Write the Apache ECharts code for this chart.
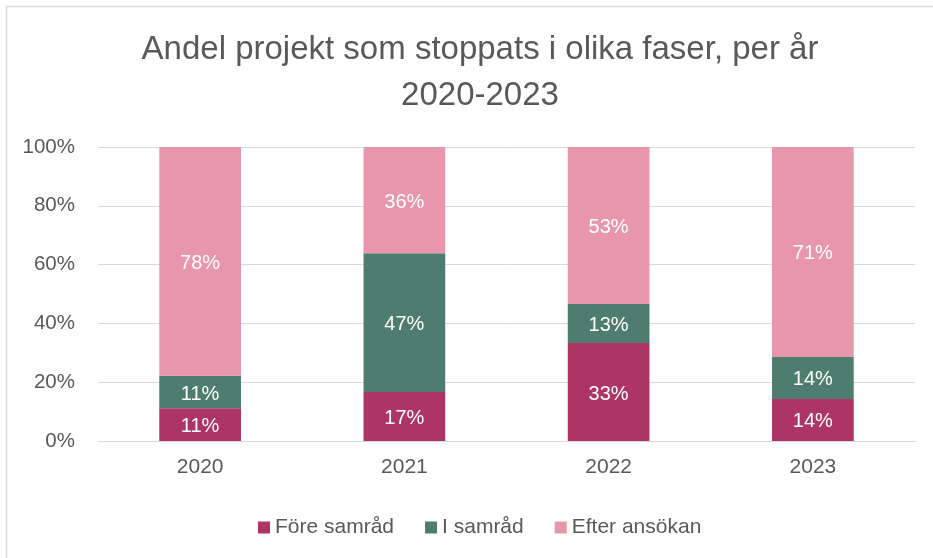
<!DOCTYPE html>
<html>
<head>
<meta charset="utf-8">
<script src="https://cdn.jsdelivr.net/npm/echarts@6/dist/echarts.min.js"></script>
<style>
  html, body { margin: 0; padding: 0; background: #fff; }
  #main { width: 933px; height: 558px; }
</style>
</head>
<body>
<div id="main"></div>
<script>
const years = ["2020", "2021", "2022", "2023"]
const foreSamrad = [11.1, 16.7, 33.3, 14.3]
const iSamrad = [11.1, 47.2, 13.3, 14.3]
const efterAnsokan = [77.8, 36.1, 53.4, 71.4]
const yTicks = [0, 20, 40, 60, 80, 100]

const font = "Liberation Sans"
const grey = "#595959"

const chart = echarts.init(document.getElementById("main"))

function makeSeries(name, data, color) {
  return {
    name: name,
    type: "bar",
    stack: "total",
    data: data,
    barWidth: "40%",
    itemStyle: { color: color },
    label: {
      show: true,
      position: "inside",
      offset: [0, 2],
      color: "#fff",
      fontFamily: font,
      fontSize: 20,
      formatter: (p) => Math.round(p.value) + "%"
    }
  }
}

chart.setOption({
  animation: false,
  title: {
    text: "Andel projekt som stoppats i olika faser, per år\n2020-2023",
    left: 475,
    top: 22,
    textAlign: "center",
    textStyle: {
      fontFamily: font,
      fontWeight: "normal",
      fontSize: 33,
      lineHeight: 46,
      color: grey
    }
  },
  legend: {
    data: ["Före samråd", "I samråd", "Efter ansökan"],
    left: 253,
    top: 512,
    icon: "rect",
    itemWidth: 12,
    itemHeight: 12,
    itemGap: 31,
    textStyle: { fontFamily: font, fontSize: 21, color: grey }
  },
  grid: { left: 98, right: 18, top: 147, bottom: 117 },
  xAxis: {
    type: "category",
    data: years,
    axisLine: { lineStyle: { color: "#d9d9d9", width: 1 } },
    axisTick: { show: false },
    axisLabel: { fontFamily: font, fontSize: 21, color: grey, margin: 16 }
  },
  yAxis: {
    type: "value",
    min: yTicks[0],
    max: yTicks[yTicks.length - 1],
    interval: 20,
    axisLine: { show: false },
    axisTick: { show: false },
    splitLine: { lineStyle: { color: "#d9d9d9", width: 1 } },
    axisLabel: {
      fontFamily: font,
      fontSize: 20.5,
      color: grey,
      margin: 23,
      formatter: (v) => v + "%"
    }
  },
  graphic: [
    { type: "line", shape: { x1: 6, y1: 6.5, x2: 933, y2: 6.5 }, style: { stroke: "#d9d9d9", lineWidth: 1.5 } },
    { type: "line", shape: { x1: 6.5, y1: 6, x2: 6.5, y2: 558 }, style: { stroke: "#d9d9d9", lineWidth: 1.5 } }
  ],
  series: [
    makeSeries("Före samråd", foreSamrad, "#ad3566"),
    makeSeries("I samråd", iSamrad, "#4e7d6f"),
    makeSeries("Efter ansökan", efterAnsokan, "#e896ac")
  ]
})
</script>
</body>
</html>
